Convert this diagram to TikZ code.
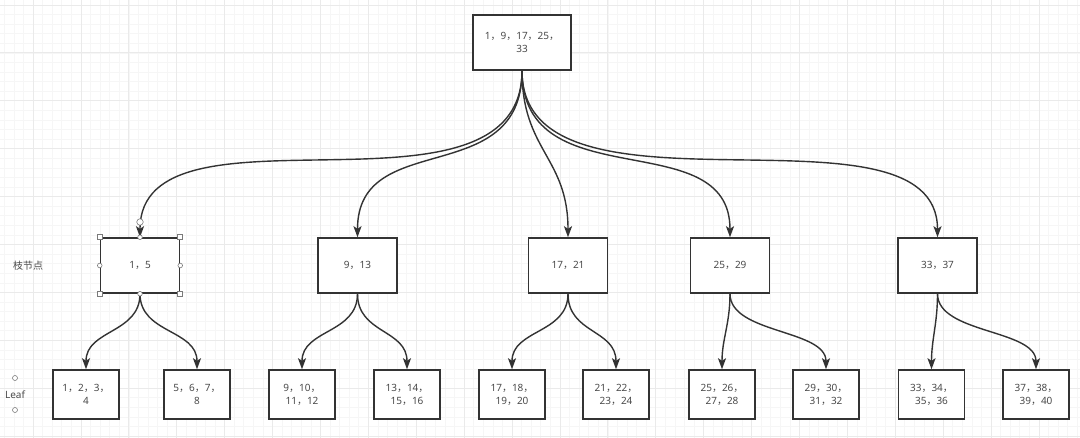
\documentclass[tikz,border=0pt]{standalone}
\usepackage{fontspec}
\setmainfont{Noto Sans}
\newfontfamily\cjk{Noto Sans CJK SC}
\usepackage{tikz}
\usetikzlibrary{arrows.meta}
\definecolor{linegray}{HTML}{333333}
\definecolor{textgray}{HTML}{4A4A4A}
\definecolor{gridmajor}{HTML}{EAEAEA}
\definecolor{gridminor}{HTML}{F6F6F6}
\definecolor{handlegray}{HTML}{7A7A7A}
\newcommand{\cm}{{\cjk ，}}
\tikzset{
  keybox/.style={draw=linegray,line width=1.5pt,fill=white,minimum width=79pt,minimum height=55pt,
    inner sep=0pt,align=center,text=textgray,font=\fontsize{10}{13}\selectfont},
  leafbox/.style={keybox,minimum width=66pt,minimum height=49pt},
  edge/.style={draw=linegray,line width=1.4pt,-{Stealth[length=11pt,width=8pt,inset=2.5pt]}},
  handle/.style={draw=handlegray,fill=white,line width=0.6pt,inner sep=0pt},
  sidelabel/.style={text=textgray,font=\fontsize{10}{12}\selectfont},
}

\begin{document}
\begin{tikzpicture}[x=1pt,y=-1pt]
\useasboundingbox (0,0) rectangle (1080,438);
\fill[white] (0,0) rectangle (1080,438);
\foreach \i in {-4,...,109}
  \draw[gridminor,line width=0.6pt] ({33+9.58*\i},0)--({33+9.58*\i},438);
\foreach \j in {0,...,45}
  \draw[gridminor,line width=0.6pt] (0,{5+9.58*\j})--(1080,{5+9.58*\j});
\foreach \i in {-1,...,21}
  \draw[gridmajor,line width=0.8pt] ({33+47.9*\i},0)--({33+47.9*\i},438);
\foreach \j in {0,...,9}
  \draw[gridmajor,line width=0.8pt] (0,{5+47.9*\j})--(1080,{5+47.9*\j});

\node[keybox,minimum width=98pt] (root) at (522,42.5) {1\cm9\cm17\cm25\cm\\33};

\node[keybox] (n15) at (140,265.5) {1\cm5};
\node[keybox] (n913) at (357.5,265.5) {9\cm13};
\node[keybox] (n1721) at (568,265.5) {17\cm21};
\node[keybox] (n2529) at (730,265.5) {25\cm29};
\node[keybox] (n3337) at (937.5,265.5) {33\cm37};

\node[leafbox] (l1) at (86,394.5) {1\cm2\cm3\cm\\4};
\node[leafbox] (l2) at (197,394.5) {5\cm6\cm7\cm\\8};
\node[leafbox] (l3) at (302,394.5) {9\cm10\cm\\11\cm12};
\node[leafbox] (l4) at (407,394.5) {13\cm14\cm\\15\cm16};
\node[leafbox] (l5) at (512,394.5) {17\cm18\cm\\19\cm20};
\node[leafbox] (l6) at (616,394.5) {21\cm22\cm\\23\cm24};
\node[leafbox] (l7) at (722,394.5) {25\cm26\cm\\27\cm28};
\node[leafbox] (l8) at (826,394.5) {29\cm30\cm\\31\cm32};
\node[leafbox] (l9) at (931.5,394.5) {33\cm34\cm\\35\cm36};
\node[leafbox] (l10) at (1036,394.5) {37\cm38\cm\\39\cm40};

\node[sidelabel,font=\cjk\fontsize{10}{12}\selectfont] (branchlbl) at (28,266) {枝节点};
\node[sidelabel] (leaflbl) at (15,395) {Leaf};

\draw[edge] (root.south) .. controls +(0,165) and +(0,-147) .. (n15.north);
\draw[edge] (root.south) .. controls +(0,120) and +(0,-110) .. (n913.north);
\draw[edge] (root.south) .. controls +(0,80) and +(0,-80) .. (n1721.north);
\draw[edge] (root.south) .. controls +(0,130) and +(0,-115) .. (n2529.north);
\draw[edge] (root.south) .. controls +(0,165) and +(0,-147) .. (n3337.north);

\draw[edge] (n15.south) .. controls +(0,40) and +(0,-40) .. (l1.north);
\draw[edge] (n15.south) .. controls +(0,40) and +(0,-40) .. (l2.north);
\draw[edge] (n913.south) .. controls +(0,40) and +(0,-40) .. (l3.north);
\draw[edge] (n913.south) .. controls +(0,40) and +(0,-40) .. (l4.north);
\draw[edge] (n1721.south) .. controls +(0,40) and +(0,-40) .. (l5.north);
\draw[edge] (n1721.south) .. controls +(0,40) and +(0,-40) .. (l6.north);
\draw[edge] (n2529.south) .. controls +(0,30) and +(0,-30) .. (l7.north);
\draw[edge] (n2529.south) .. controls +(0,40) and +(0,-40) .. (l8.north);
\draw[edge] (n3337.south) .. controls +(0,30) and +(0,-30) .. (l9.north);
\draw[edge] (n3337.south) .. controls +(0,40) and +(0,-40) .. (l10.north);

\foreach \c in {north west,north east,south west,south east}
  \node[handle,rectangle,minimum size=5pt] at (n15.\c) {};
\foreach \c in {north,south,west,east}
  \node[handle,circle,minimum size=4.6pt] at (n15.\c) {};
\node[handle,circle,minimum size=6.5pt] (tiphandle) at (140,222) {};
\node[handle,circle,minimum size=5pt] (leaftop) at (15,378) {};
\node[handle,circle,minimum size=5pt] (leafbot) at (15,410) {};
\end{tikzpicture}
\end{document}
